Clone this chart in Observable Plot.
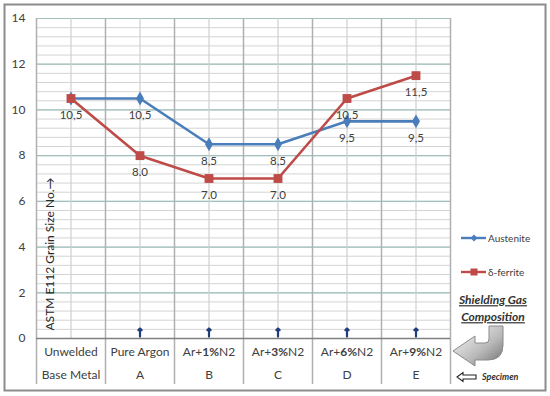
<!DOCTYPE html>
<html>
<head>
<meta charset="utf-8">
<script src="https://cdn.jsdelivr.net/npm/d3@7"></script>
<script src="https://cdn.jsdelivr.net/npm/@observablehq/plot@0.6"></script>
<style>
  body { margin: 0; background: white; }
</style>
</head>
<body>
<div id="chart"></div>
<script>
const categories = ["Unwelded", "Pure Argon", "Ar+1%N2", "Ar+3%N2", "Ar+6%N2", "Ar+9%N2"];
const specimens = ["Base Metal", "A", "B", "C", "D", "E"];
const austenite = [10.5, 10.5, 8.5, 8.5, 9.5, 9.5];
const ferrite = [10.5, 8.0, 7.0, 7.0, 10.5, 11.5];
const austeniteLabels = ["10,5", "10,5", "8,5", "8,5", "9,5", "9,5"];
const ferriteLabels = ["10,5", "8.0", "7.0", "7.0", "10,5", "11,5"];
const yTicks = [0, 2, 4, 6, 8, 10, 12, 14];
const yMinorStep = 0.4;
const seriesNames = ["Austenite", "δ-ferrite"];
const yTitle = "ASTM E112 Grain Size No.→";

const blue = "#4a7ebb", red = "#be4b48";
const idx = categories.map((d, i) => i);
const rows = idx.flatMap(i => [
  {i, series: seriesNames[0], v: austenite[i], label: austeniteLabels[i]},
  {i, series: seriesNames[1], v: ferrite[i], label: ferriteLabels[i]}
]);
const boundaries = idx.map(i => i - 0.5).concat([categories.length - 0.5]);
const minor = d3.range(0, 14 + 1e-9, yMinorStep);

const chart = Plot.plot({
  width: 550,
  height: 396,
  marginLeft: 36,
  marginRight: 100,
  marginTop: 18,
  marginBottom: 58,
  style: {fontFamily: "Lato, 'Open Sans', sans-serif", fontSize: "12px", color: "#404040", background: "white"},
  x: {domain: [-0.5, categories.length - 0.5], axis: null},
  y: {domain: [0, 14], axis: null},
  marks: [
    Plot.ruleY(minor, {stroke: "#d4d4d4", strokeWidth: 1}),
    Plot.ruleY(yTicks, {stroke: "#9fc0bb", strokeWidth: 1.2}),
    Plot.ruleX(idx, {stroke: "#cfcfcf", strokeWidth: 1.2}),
    Plot.ruleX(boundaries, {stroke: "#b0b0b0", strokeWidth: 1.5, insetBottom: -46}),
    Plot.ruleY([0], {stroke: "#808080", strokeWidth: 1.3}),
    Plot.axisY({ticks: yTicks, tickSize: 0, tickPadding: 11, fontSize: 12, label: null, tickFormat: d => String(d)}),
    Plot.vector(idx.slice(1), {x: d => d, y: 0, length: 8, rotate: 0, anchor: "start", dy: -2,
      stroke: "#1f3d7a", strokeWidth: 2.2}),
    Plot.text([yTitle], {frameAnchor: "bottom-left", dx: 17, dy: -8, rotate: -90, textAnchor: "start",
      fontSize: 12, fill: "#262626"}),
    Plot.line(rows.filter(d => d.series === seriesNames[0]), {x: "i", y: "v", stroke: blue, strokeWidth: 2.6}),
    Plot.line(rows.filter(d => d.series === seriesNames[1]), {x: "i", y: "v", stroke: red, strokeWidth: 2.6}),
    Plot.dot(rows.filter(d => d.series === seriesNames[0]), {x: "i", y: "v", symbol: "diamond", r: 4.2, fill: blue}),
    Plot.dot(rows.filter(d => d.series === seriesNames[1]), {x: "i", y: "v", symbol: "square", r: 5, fill: red}),
    Plot.text(rows.filter(d => !(d.i === 0 && d.series === seriesNames[1])), {x: "i", y: "v", text: "label", dy: 17, fontSize: 11.5, fill: "#404040"}),
    Plot.text(categories, {x: (d, i) => i, frameAnchor: "bottom", dy: 17, fontSize: 12, fill: "#404040", className: "cat"}),
    Plot.text(specimens, {x: (d, i) => i, frameAnchor: "bottom", dy: 40, fontSize: 12, fill: "#404040"})
  ]
});

// bold the N2 percentages inside category labels
d3.select(chart).selectAll("g.cat text").each(function() {
  const t = this.textContent;
  const m = t.match(/^(.*?)(\d+%)(.*)$/);
  if (!m) return;
  const sel = d3.select(this);
  sel.text(null);
  sel.append("tspan").text(m[1]);
  sel.append("tspan").attr("font-weight", "bold").text(m[2]);
  sel.append("tspan").text(m[3]);
});

const svg = d3.select(chart);
// outer border
svg.insert("rect", ":first-child").attr("x", 4.5).attr("y", 4.5).attr("width", 541).attr("height", 386)
  .attr("fill", "white").attr("stroke", "#8c8c8c").attr("stroke-width", 2);

// legend
const leg = svg.append("g").attr("font-family", "Lato, sans-serif").attr("font-size", 10).attr("fill", "#404040")
  .attr("text-anchor", "start");
[[blue, "diamond", 238, seriesNames[0]], [red, "square", 272, seriesNames[1]]].forEach(([c, s, y, name]) => {
  leg.append("line").attr("x1", 461).attr("x2", 486).attr("y1", y).attr("y2", y).attr("stroke", c).attr("stroke-width", 2.4);
  if (s === "diamond") leg.append("path").attr("d", `M474,${y-3.5}L477.5,${y}L474,${y+3.5}L470.5,${y}Z`).attr("fill", c);
  else leg.append("rect").attr("x", 470.5).attr("y", y - 3.5).attr("width", 7).attr("height", 7).attr("fill", c);
  leg.append("text").attr("x", 488).attr("y", y).attr("dy", "0.35em").attr("text-anchor", "start").text(name);
});

// annotation
const ann = svg.append("g").attr("font-family", "Lato, sans-serif").attr("fill", "#333");
ann.append("text").attr("x", 493).attr("y", 300).attr("dy", "0.35em").attr("text-anchor", "middle")
  .attr("font-size", 12).attr("font-weight", "bold").attr("font-style", "italic").attr("text-decoration", "underline")
  .text("Shielding Gas");
ann.append("text").attr("x", 493).attr("y", 317).attr("dy", "0.35em").attr("text-anchor", "middle")
  .attr("font-size", 12).attr("font-weight", "bold").attr("font-style", "italic").attr("text-decoration", "underline")
  .text("Composition");
const defs = svg.append("defs");
const grad = defs.append("linearGradient").attr("id", "ag").attr("x1", 0).attr("y1", 0).attr("x2", 1).attr("y2", 1);
grad.append("stop").attr("offset", "0%").attr("stop-color", "#ffffff");
grad.append("stop").attr("offset", "60%").attr("stop-color", "#b8b8b8");
grad.append("stop").attr("offset", "100%").attr("stop-color", "#6e6e6e");
ann.append("path")
  .attr("d", "M489,326 L503,326 L503,345 Q503,360 488,360 L475,360 L475,366 L453,351 L475,336 L475,343 L485,343 Q489,343 489,339 Z")
  .attr("fill", "url(#ag)").attr("stroke", "#8a8a8a").attr("stroke-width", 1);
ann.append("path")
  .attr("d", "M457,377 L463,372.5 L463,375 L476,375 L476,379 L463,379 L463,381.5 Z")
  .attr("fill", "white").attr("stroke", "#222").attr("stroke-width", 1.1);
ann.append("text").attr("x", 482).attr("y", 377).attr("dy", "0.35em").attr("text-anchor", "start")
  .attr("font-size", 9).attr("font-weight", "bold").attr("font-style", "italic").text("Specimen");

document.getElementById("chart").appendChild(chart);
</script>
</body>
</html>
